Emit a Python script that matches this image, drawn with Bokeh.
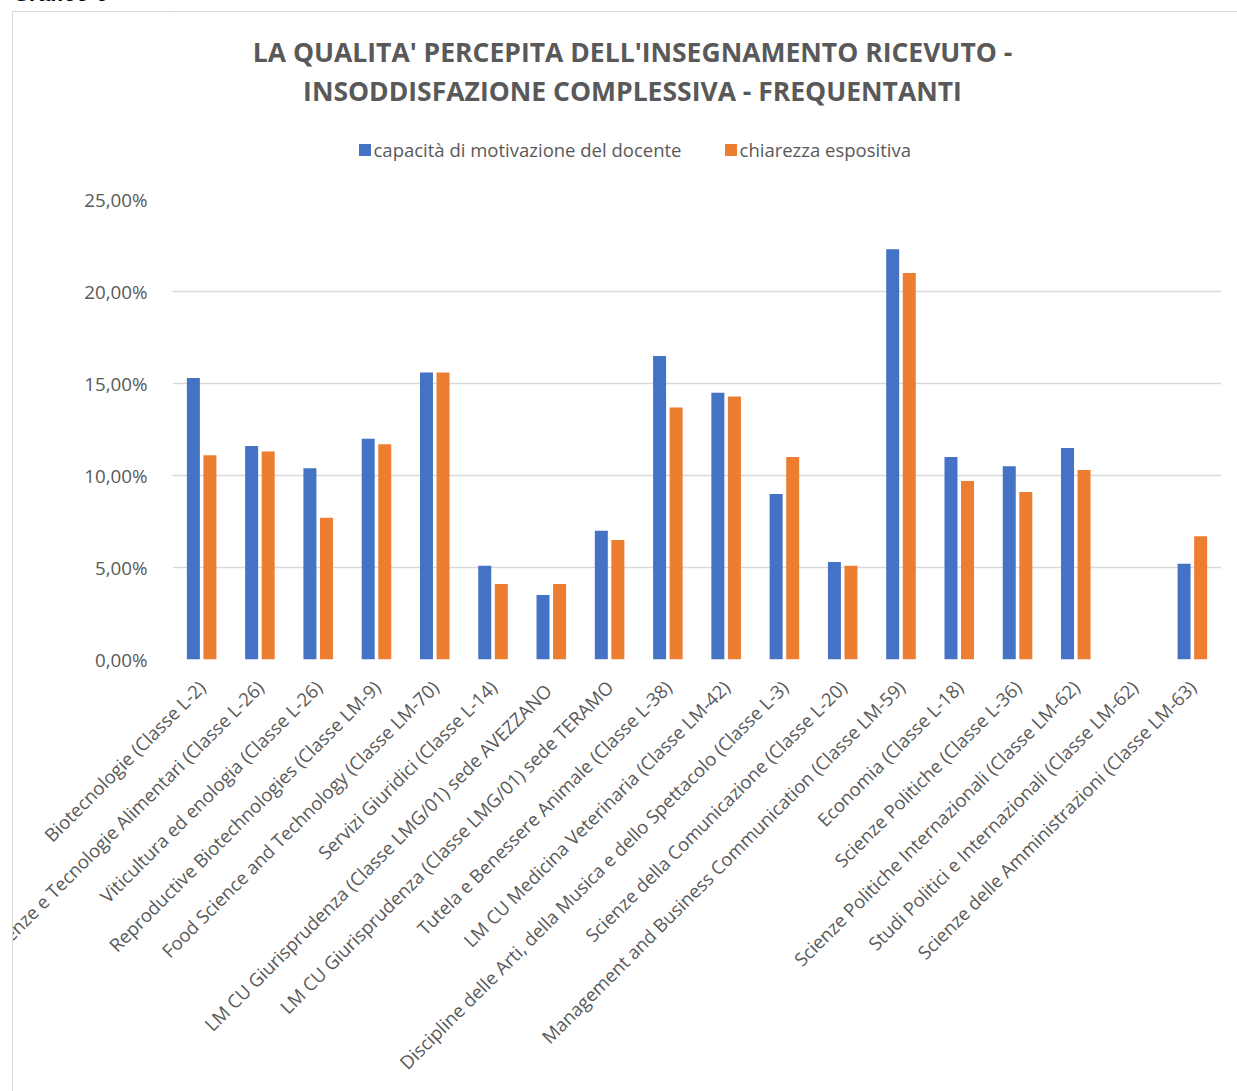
import numpy as np
import math
from bokeh.plotting import figure
from bokeh.layouts import column
from bokeh.models import (ColumnDataSource, FactorRange, Range1d, FixedTicker, Div,
                          CustomJSTickFormatter, Legend, LegendItem, Label)
from bokeh.transform import dodge
from bokeh.embed import file_html
from bokeh.resources import INLINE

categories = [
    "Biotecnologie (Classe L-2)",
    "Scienze e Tecnologie Alimentari (Classe L-26)",
    "Viticultura ed enologia (Classe L-26)",
    "Reproductive Biotechnologies (Classe LM-9)",
    "Food Science and Technology (Classe LM-70)",
    "Servizi Giuridici (Classe L-14)",
    "LM CU  Giurisprudenza (Classe LMG/01) sede AVEZZANO",
    "LM CU Giurisprudenza (Classe LMG/01) sede TERAMO",
    "Tutela e Benessere Animale (Classe L-38)",
    "LM CU Medicina Veterinaria (Classe LM-42)",
    "Discipline delle Arti, della Musica e dello Spettacolo (Classe L-3)",
    "Scienze della Comunicazione (Classe L-20)",
    "Management and Business Communication (Classe LM-59)",
    "Economia (Classe L-18)",
    "Scienze Politiche (Classe L-36)",
    "Scienze Politiche Internazionali (Classe LM-62)",
    "Studi Politici e Internazionali (Classe LM-62)",
    "Scienze delle Amministrazioni (Classe LM-63)",
]
motivazione = [15.3, 11.6, 10.4, 12.0, 15.6, 5.1, 3.5, 7.0, 16.5, 14.5, 9.0, 5.3, 22.3, 11.0, 10.5, 11.5, float("nan"), 5.2]
chiarezza = [11.1, 11.3, 7.7, 11.7, 15.6, 4.1, 4.1, 6.5, 13.7, 14.3, 11.0, 5.1, 21.0, 9.7, 9.1, 10.3, float("nan"), 6.7]
y_ticks = [0, 5, 10, 15, 20, 25]
series_names = ["capacità di motivazione del docente", "chiarezza espositiva"]
title_lines = ["LA QUALITA' PERCEPITA DELL'INSEGNAMENTO RICEVUTO -",
               "INSODDISFAZIONE COMPLESSIVA - FREQUENTANTI"]
caption = "Grafico 6"

blue, orange = "#4472C4", "#ED7D31"
grey_text = "#595959"
border_col = "#d9d9d9"

# plot frame position on the page
FL, FR, FT, FB = 172, 1221, 199, 659

# ---- caption strip (only its lower part is visible, as in the reference)
cap = Div(text=f'<div style="position:relative;top:-19px;left:13px;font:italic bold 22px \'Liberation Sans\';color:black;white-space:nowrap">{caption}</div>',
          width=400, height=11, margin=0, styles={"overflow": "hidden"})

# ---- header figure: title and legend; its frame is aligned with the chart frame (x = page pixels)
HX0, HY0, HW, HH = 13, 12, 1224, 170
header = figure(width=HW, height=HH, x_range=Range1d(FL, FR), y_range=Range1d(HY0 + HH, HY0),
                output_backend="svg", toolbar_location=None, x_axis_location=None, y_axis_location=None,
                min_border_left=FL - HX0, min_border_right=1237 - FR, min_border_top=0, min_border_bottom=0)
header.outline_line_color = None
header.grid.grid_line_color = None
for t, yy in zip(title_lines, [51, 90]):
    header.add_layout(Label(x=632, y=yy, text=t, text_align="center", text_baseline="middle",
                            text_font="Open Sans", text_font_style="bold", text_font_size="26.5px",
                            text_color=grey_text))
# legend proxies (kept outside the visible range)
d1 = header.vbar(x=[-1000], top=[0], width=1, fill_color=blue, line_color=None)
d2 = header.vbar(x=[-1000], top=[0], width=1, fill_color=orange, line_color=None)
legend = Legend(items=[LegendItem(label=series_names[0], renderers=[d1]),
                       LegendItem(label=series_names[1], renderers=[d2])],
                orientation="horizontal", location=(356.5 - FL, HY0 + HH - 162),
                padding=0, margin=0, border_line_color=None, background_fill_alpha=0,
                glyph_width=15, glyph_height=15, label_standoff=2, spacing=41,
                label_text_font="Open Sans", label_text_font_size="18.5px", label_text_color=grey_text)
header.add_layout(legend)

# ---- main chart
source = ColumnDataSource(dict(cat=categories, a=np.array(motivazione), b=np.array(chiarezza)))
PX0, PY0 = HX0, HY0 + HH
PW, PH = 1237 - PX0, 1091 - PY0
p = figure(width=PW, height=PH, x_range=FactorRange(*categories, range_padding=0),
           y_range=Range1d(0, 25), output_backend="svg", toolbar_location=None,
           min_border_left=FL - PX0, min_border_right=1237 - FR, min_border_top=FT - PY0,
           min_border_bottom=PY0 + PH - FB)
p.outline_line_color = None

r1 = p.vbar(x=dodge("cat", -0.142, range=p.x_range), top="a", width=0.223, source=source,
            fill_color=blue, line_color=None)
r2 = p.vbar(x=dodge("cat", 0.142, range=p.x_range), top="b", width=0.223, source=source,
            fill_color=orange, line_color=None)

p.xgrid.grid_line_color = None
p.ygrid.grid_line_color = border_col
p.ygrid.grid_line_width = 1.3
p.yaxis.ticker = FixedTicker(ticks=y_ticks)
p.yaxis.formatter = CustomJSTickFormatter(code="return tick.toFixed(2).replace('.', ',') + '%';")
for ax in (p.xaxis, p.yaxis):
    ax.axis_line_color = None
    ax.major_tick_line_color = None
    ax.minor_tick_line_color = None
    ax.major_label_text_color = grey_text
    ax.major_label_text_font = "Open Sans"
p.yaxis.major_label_text_font_size = "18.8px"
p.yaxis.major_label_standoff = 19
p.xaxis.major_label_text_font_size = "18.5px"
p.xaxis.major_label_orientation = math.pi / 4
p.xaxis.major_label_standoff = 18

body = column(header, p, spacing=0, margin=(0, 0, 0, 12),
              styles={"border-top": f"1px solid {border_col}", "border-left": f"1px solid {border_col}"})
page = column(cap, body, spacing=0, margin=0)

open("out.html", "w").write(file_html(page, INLINE))
